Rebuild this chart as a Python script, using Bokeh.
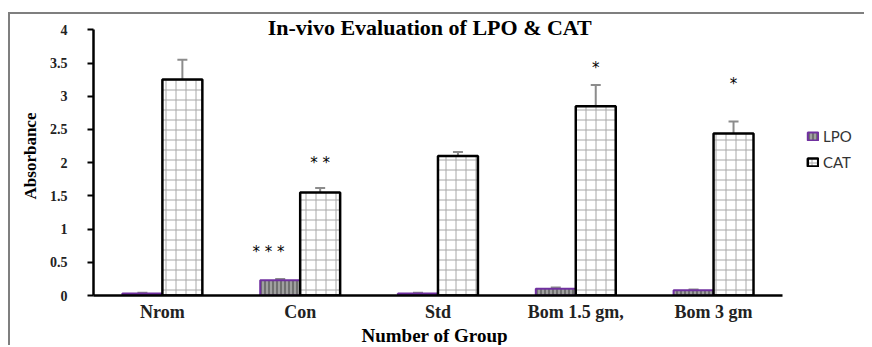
from bokeh.plotting import figure
from bokeh.models import (ColumnDataSource, Range1d, Whisker, Legend, LegendItem,
                          Label, Title, FixedTicker, CustomJSTickFormatter)
from bokeh.transform import dodge
from bokeh.core.properties import value
from bokeh.embed import file_html
from bokeh.resources import INLINE

groups = ["Nrom", "Con", "Std", "Bom 1.5 gm,", "Bom 3 gm"]
lpo = [0.03, 0.23, 0.03, 0.10, 0.08]
lpo_err = [0.01, 0.02, 0.01, 0.02, 0.01]
cat = [3.25, 1.55, 2.10, 2.85, 2.44]
cat_err = [0.30, 0.07, 0.06, 0.32, 0.18]
lpo_marks = ["", "* * *", "", "", ""]
lpo_mark_y = [0, 0.65, 0, 0, 0]
cat_marks = ["", "* *", "", "*", "*"]
cat_mark_y = [0, 2.0, 0, 3.43, 3.19]
y_ticks = [0, 0.5, 1, 1.5, 2, 2.5, 3, 3.5, 4]

xc = [i + 0.5 for i in range(len(groups))]
src = ColumnDataSource(dict(
    xc=xc, g=groups, lpo=lpo, cat=cat,
    lpo_lo=[v - e for v, e in zip(lpo, lpo_err)], lpo_hi=[v + e for v, e in zip(lpo, lpo_err)],
    cat_lo=[v - e for v, e in zip(cat, cat_err)], cat_hi=[v + e for v, e in zip(cat, cat_err)],
))
lsrc = ColumnDataSource(dict(xc=xc, t=lpo_marks, y=lpo_mark_y))
csrc = ColumnDataSource(dict(xc=xc, t=cat_marks, y=cat_mark_y))

p = figure(width=856, height=333, output_backend="svg", toolbar_location=None,
           x_range=Range1d(0, 5.61), y_range=Range1d(0, 4.2),
           min_border_left=83, min_border_right=0, min_border_top=2, min_border_bottom=51)
p.outline_line_color = None
p.xgrid.visible = False
p.ygrid.visible = False
p.margin = (12, 0, 0, 8)
p.styles = {"border-top": "2px solid #7f7f7f", "border-left": "2px solid #7f7f7f"}

W = 0.29
lpo_r = p.vbar(x=dodge("xc", -W / 2), top="lpo", width=W, source=src,
               fill_color="#a0a0a0", line_color="#7030A0", line_width=2,
               hatch_pattern="|", hatch_color="#404040", hatch_scale=4, hatch_weight=1)
cat_r = p.vbar(x=dodge("xc", W / 2), top="cat", width=W, source=src,
               fill_color="white", line_color="black", line_width=2.5,
               hatch_pattern="+", hatch_color="#a8a8a8", hatch_scale=10, hatch_weight=1)

for lo, hi, off in [("lpo_lo", "lpo_hi", -W / 2), ("cat_lo", "cat_hi", W / 2)]:
    wk = Whisker(base=dodge("xc", off), lower=lo, upper=hi, source=src,
                 line_color="#8c8c8c", line_width=2)
    for h in (wk.upper_head, wk.lower_head):
        h.line_color = "#8c8c8c"
        h.line_width = 2
        h.size = 10
    p.add_layout(wk)

p.text(x=dodge("xc", -0.23), y="y", text="t", source=lsrc,
       text_font=value("DejaVu Sans"), text_font_size="15px", text_color="black",
       text_align="center", text_baseline="middle")
p.text(x=dodge("xc", W / 2), y="y", text="t", source=csrc,
       text_font=value("DejaVu Sans"), text_font_size="15px", text_color="black",
       text_align="center", text_baseline="middle")

title = Label(x=2.44, y=4.035, text="In-vivo Evaluation of LPO & CAT", text_font="Liberation Serif",
              text_font_style="bold", text_font_size="22px", text_align="center",
              text_baseline="middle", text_color="black")
p.add_layout(title)

ya = p.yaxis[0]
ya.bounds = (0, 4)
ya.ticker = FixedTicker(ticks=y_ticks)
ya.formatter = CustomJSTickFormatter(code="return tick.toString();")
ya.axis_line_width = 2.5
ya.axis_line_color = "black"
ya.major_tick_line_width = 2
ya.major_tick_out = 6
ya.major_tick_in = 0
ya.minor_tick_out = 0
ya.minor_tick_in = 0
ya.major_label_text_font = "Liberation Serif"
ya.major_label_text_font_style = "bold"
ya.major_label_text_font_size = "14px"
ya.major_label_text_color = "#222222"
ya.major_label_standoff = 20
ya.axis_label = "Absorbance"
ya.axis_label_text_font = "Liberation Serif"
ya.axis_label_text_font_style = "bold"
ya.axis_label_text_font_size = "17px"
ya.axis_label_text_color = "black"
ya.axis_label_standoff = 7

xa = p.xaxis[0]
xa.bounds = (0, 5)
xa.ticker = FixedTicker(ticks=xc)
xa.formatter = CustomJSTickFormatter(args=dict(names=groups),
                                     code="return names[Math.floor(tick)];")
xa.axis_line_width = 2.5
xa.axis_line_color = "black"
xa.major_tick_line_color = None
xa.minor_tick_line_color = None
xa.major_tick_out = 0
xa.major_tick_in = 0
xa.major_label_text_font = "Liberation Serif"
xa.major_label_text_font_style = "bold"
xa.major_label_text_font_size = "18px"
xa.major_label_text_color = "#222222"
xa.major_label_standoff = 6

xtitle = Title(text="Number of Group", align="left", offset=268, standoff=0,
               vertical_align="top",
               text_font="Liberation Serif", text_font_style="bold", text_font_size="19px",
               text_color="black")
p.add_layout(xtitle, "below")

legend = Legend(items=[LegendItem(label="LPO", renderers=[lpo_r]),
                       LegendItem(label="CAT", renderers=[cat_r])],
                location=(713, 124), orientation="vertical",
                label_text_font="Lato", label_text_font_size="15px", label_text_color="#333333",
                glyph_width=13, glyph_height=10, spacing=8, padding=2, margin=0,
                label_standoff=4, border_line_color=None, background_fill_alpha=0)
p.add_layout(legend, "center")

open("out.html", "w").write(file_html(p, INLINE))
